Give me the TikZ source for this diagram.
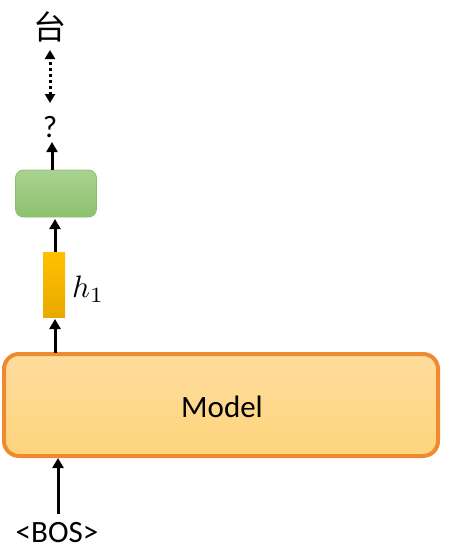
\RequirePackage{fix-cm}
\documentclass[tikz,border=0pt]{standalone}
\usepackage{fontspec}
\setmainfont{Carlito}
\newfontfamily\cjk{Noto Sans CJK SC}
\usetikzlibrary{arrows.meta,shadings}
\definecolor{orbord}{HTML}{F08A30}
\definecolor{ortop}{HTML}{FEDC9C}
\definecolor{orbot}{HTML}{FED47C}
\definecolor{yeltop}{HTML}{FFC000}
\definecolor{yelbot}{HTML}{E9A900}
\definecolor{grtop}{HTML}{AAD292}
\definecolor{grbot}{HTML}{8DC170}
\definecolor{grbord}{HTML}{8CBF6C}
\tikzset{
  x=1pt, y=-1pt,
  conn/.style={line width=3pt, -{Triangle[width=11pt,length=10pt]}},
  dotconn/.style={line width=3pt, dash pattern=on 3pt off 3pt, {Triangle[width=10pt,length=9pt]}-{Triangle[width=10pt,length=9pt]}},
  lbl/.style={inner sep=0pt, font=\fontsize{31}{34}\selectfont}
}
\begin{document}
\begin{tikzpicture}
\useasboundingbox (0,0) rectangle (451,560);
% Model box
\node[draw=orbord, line width=4pt, rounded corners=15pt, top color=ortop, bottom color=orbot,
  minimum width=434pt, minimum height=102pt, inner sep=0pt] (model) at (221,405) {};
\node[lbl] (modeltxt) at (222,407) {Model};
% hidden bar
\node[top color=yeltop, bottom color=yelbot, minimum width=22pt, minimum height=65pt, inner sep=0pt] (bar) at (54,284.5) {};
\node[inner sep=0pt, font=\normalsize, anchor=west] (h) at (72,289) {\scalebox{3.1}{$h_1$}};
% green box
\node[draw=grbord, line width=0.8pt, rounded corners=8pt, top color=grtop, bottom color=grbot,
  minimum width=81pt, minimum height=47pt, inner sep=0pt] (green) at (56,193.5) {};
% texts
\node[lbl] (q) at (50,127) {?};
\node[inner sep=0pt, font=\cjk\fontsize{33}{36}\selectfont] (tai) at (50,27) {台};
\node[lbl] (bos) at (57,533) {<BOS>};
% coordinates
\coordinate (bosTop) at (58,514);
\coordinate (modelBot) at (58,458);
\coordinate (modelTop) at (55,353);
\coordinate (barBot) at (55,319);
\coordinate (barTop) at (55,252);
\coordinate (greenBot) at (55,219);
\coordinate (greenTop) at (52,170);
\coordinate (qBot) at (52,142);
\coordinate (dTop) at (50,50);
\coordinate (dBot) at (50,103);
% connectors
\draw[conn] (bosTop) -- (modelBot);
\draw[conn] (modelTop) -- (barBot);
\draw[conn] (barTop) -- (greenBot);
\draw[conn] (greenTop) -- (qBot);
\draw[dotconn] (dBot) -- (dTop);
\end{tikzpicture}
\end{document}
